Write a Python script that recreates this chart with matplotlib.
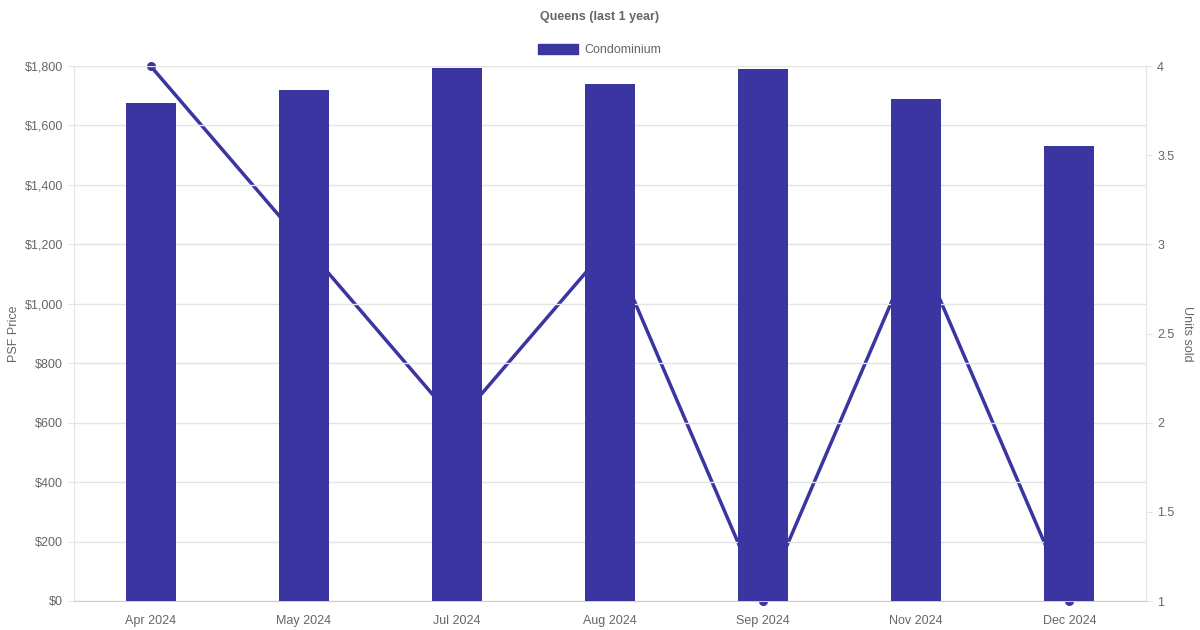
import matplotlib
matplotlib.use("Agg")
import matplotlib.pyplot as plt
from matplotlib.patches import Patch
from matplotlib.ticker import FuncFormatter, MultipleLocator

months = ["Apr 2024", "May 2024", "Jul 2024", "Aug 2024", "Sep 2024", "Nov 2024", "Dec 2024"]
psf_price = [1675, 1719, 1793, 1739, 1790, 1689, 1531]
units_sold = [4, 3, 2, 3, 1, 3, 1]

color = "#3a35a0"
grid_c = "#e4e4e4"
text_c = "#666666"

plt.rcParams["font.family"] = ["Liberation Sans", "DejaVu Sans"]

fig = plt.figure(figsize=(12, 6.3), dpi=100)
W, H = 1200, 630
ax = fig.add_axes([74 / W, 1 - 601 / H, (1146 - 74) / W, (601 - 66) / H])
ax2 = ax.twinx()
ax.set_zorder(ax2.get_zorder() + 1)
ax.patch.set_visible(False)

x = list(range(len(months)))
ax.bar(x, psf_price, width=0.327, color=color, zorder=3)
ax2.plot(x, units_sold, color=color, linewidth=2.5, marker="o", markersize=5.5,
         clip_on=False, zorder=2)

ax.set_xlim(-0.5, len(months) - 0.5)
ax.set_ylim(0, 1800)
ax.yaxis.set_major_locator(MultipleLocator(200))
ax.yaxis.set_major_formatter(FuncFormatter(lambda v, p: f"${v:,.0f}"))
ax2.set_ylim(1, 4)
ax2.yaxis.set_major_locator(MultipleLocator(0.5))
ax2.yaxis.set_major_formatter(FuncFormatter(lambda v, p: f"{v:g}"))

ax.set_xticks(x)
ax.set_xticklabels(months)
ax.grid(axis="y", color=grid_c, linewidth=1)
ax.set_axisbelow(True)

for a in (ax, ax2):
    for s in a.spines.values():
        s.set_visible(False)
ax.spines["left"].set_visible(True)
ax.spines["left"].set_color(grid_c)
ax.spines["bottom"].set_visible(True)
ax.spines["bottom"].set_color("#cccccc")
ax2.spines["right"].set_visible(True)
ax2.spines["right"].set_color(grid_c)

ax.tick_params(axis="y", colors=grid_c, labelcolor=text_c, labelsize=9, length=4.5, pad=3.5)
ax.tick_params(axis="x", length=0, labelcolor=text_c, labelsize=9, pad=10)
ax2.tick_params(axis="y", colors=grid_c, labelcolor=text_c, labelsize=9, length=4.5, pad=3.5)

ax.set_ylabel("PSF Price", color=text_c, fontsize=9, labelpad=3)
ax2.set_ylabel("Units sold", color=text_c, fontsize=9, rotation=270, labelpad=13.5)

fig.text(0.5, 1 - 17 / H, "Queens (last 1 year)", ha="center", va="center",
         fontsize=9, fontweight="bold", color=text_c)
fig.legend(handles=[Patch(facecolor=color, edgecolor=color)], labels=["Condominium"],
           loc="center", bbox_to_anchor=(0.5, 1 - 50 / H), frameon=False,
           fontsize=9, handlelength=3.2, handleheight=0.95, handletextpad=0.5,
           labelcolor=text_c)

fig.savefig("out.png", dpi=100)
